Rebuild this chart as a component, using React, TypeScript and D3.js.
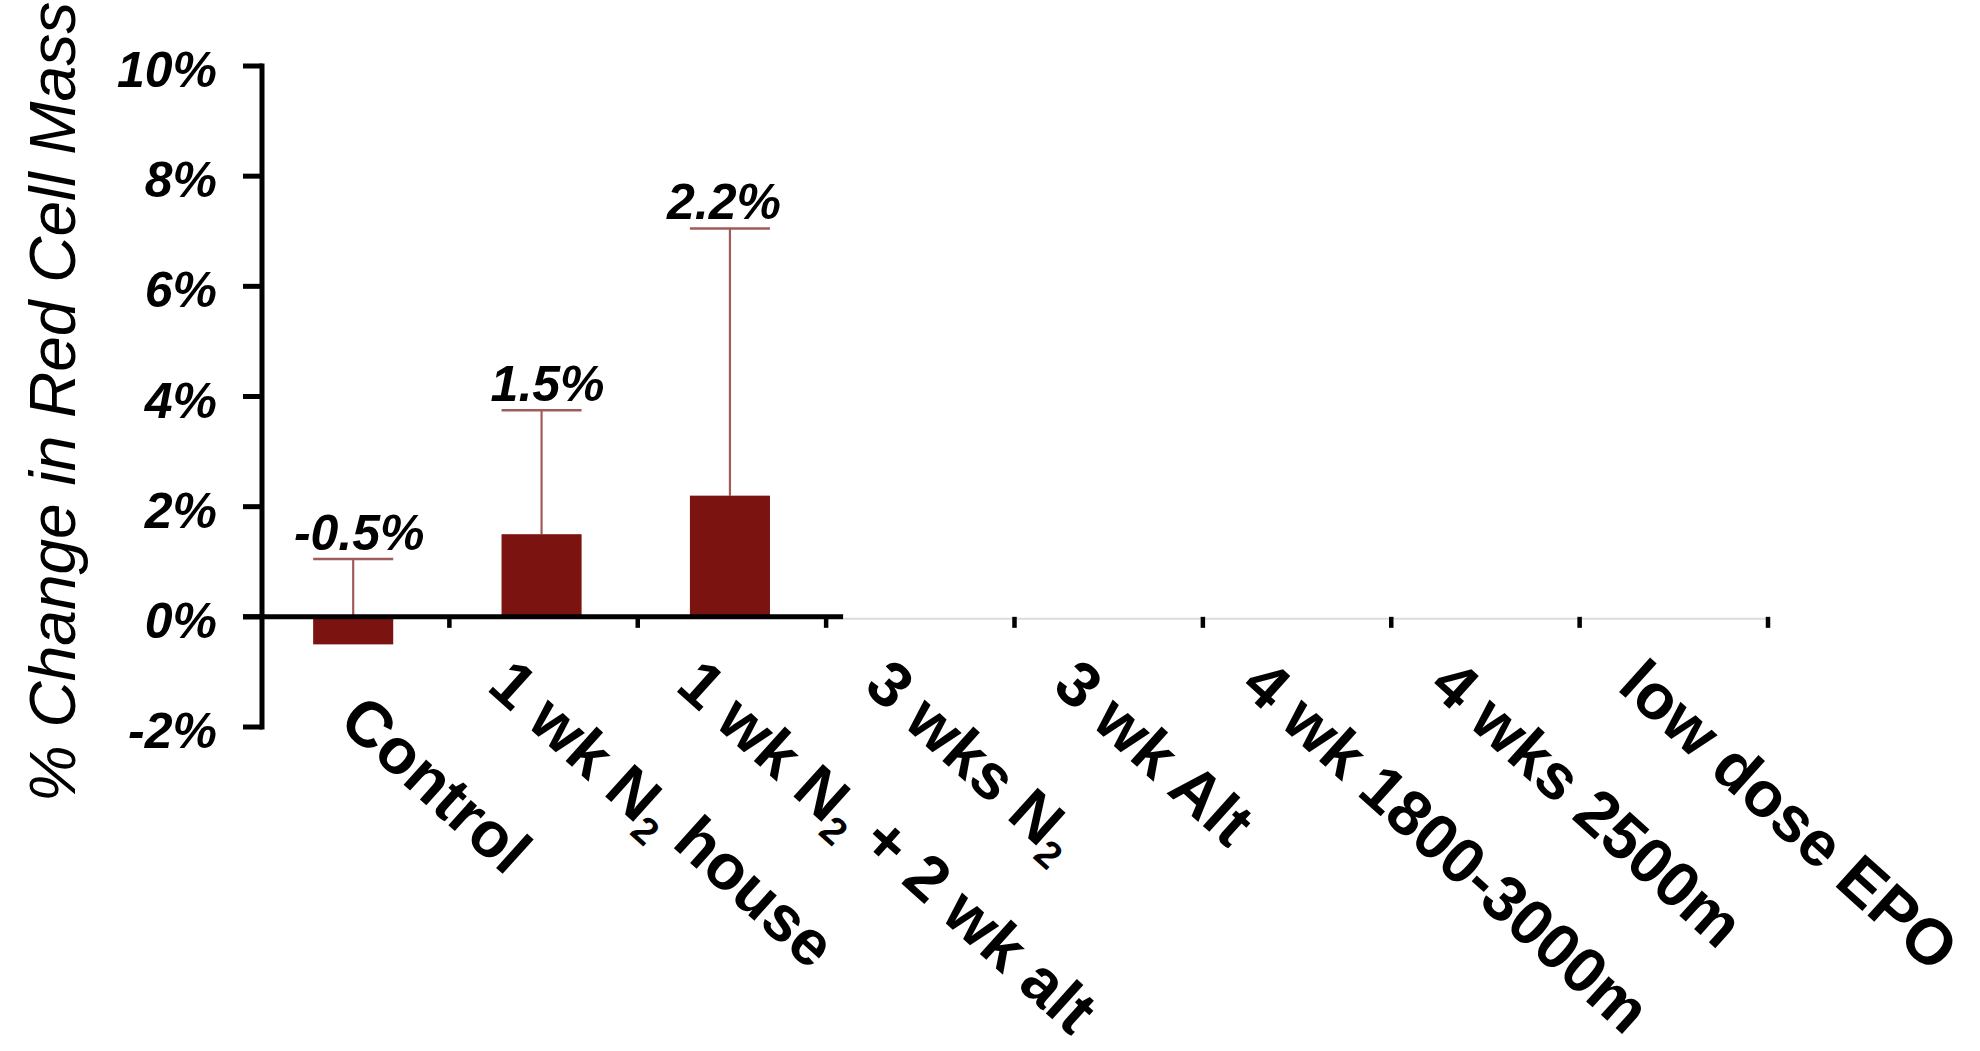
import React from "react";
import * as d3 from "d3";

const categories: string[] = [
  "   Control",
  "1 wk N2 house",
  "1 wk N2 + 2 wk alt",
  "3 wks N2",
  "3 wk Alt",
  "4 wk 1800-3000m",
  "4 wks 2500m",
  "low dose EPO",
];
const values: (number | null)[] = [-0.5, 1.5, 2.2, null, null, null, null, null];
const errorsUp: (number | null)[] = [1.55, 2.25, 4.85, null, null, null, null, null];
const yTicks: number[] = [-2, 0, 2, 4, 6, 8, 10];
const yLabel = "% Change in Red Cell Mass";

const W = 1980;
const H = 1051;
const FONT = "'Liberation Sans', Arial, Helvetica, sans-serif";
const BAR = "#7b1410";
const ERR = "#a05c5c";

function renderLabel(label: string) {
  const parts = label.split("N2");
  const out: React.ReactNode[] = [];
  parts.forEach((p, i) => {
    if (i > 0) {
      out.push(<tspan key={"n" + i}>N</tspan>);
      out.push(
        <tspan key={"s" + i} fontSize="0.6em" dy="0.3em">
          2
        </tspan>
      );
      out.push(
        <tspan key={"p" + i} dy="-0.3em">
          {p}
        </tspan>
      );
    } else if (p.length) {
      out.push(<tspan key={"p" + i}>{p}</tspan>);
    }
  });
  return out;
}

export default function App() {
  const x = d3.scaleBand<string>().domain(categories).range([261, 1768]).padding(0);
  const y = d3.scaleLinear().domain([-2, 10]).range([727, 66]);
  const bw = x.bandwidth();
  const barW = bw * 0.425;
  const y0 = y(0);
  const axisX = 262;
  const lastData = values.reduce((acc, v, i) => (v !== null ? i : acc), 0);
  const blackEnd = (x(categories[lastData]) as number) + bw + 17;
  const xEnd = x.range()[1];
  const boundaries = categories.map((c) => (x(c) as number) + bw);
  const labelNudge = [6, 6, -6];

  return (
    <svg
      width={W}
      height={H}
      style={{ position: "absolute", left: 0, top: 0, background: "#fff" }}
      fontFamily={FONT}
    >
      <rect x={0} y={0} width={W} height={H} fill="#fff" />
      {/* error bars */}
      {categories.map((c, i) => {
        const v = values[i];
        const e = errorsUp[i];
        if (v === null || e === null) return null;
        const cx = (x(c) as number) + bw / 2 - 2;
        const top = y(v + e);
        return (
          <g key={"e" + c}>
            <line x1={cx} x2={cx} y1={y(Math.max(v, 0))} y2={top} stroke={ERR} strokeWidth={2.2} />
            <line x1={cx - barW / 2} x2={cx + barW / 2} y1={top} y2={top} stroke={ERR} strokeWidth={2.6} />
            <text
              x={cx + (labelNudge[i] ?? 0)}
              y={top - 9}
              textAnchor="middle"
              fontSize={50}
              fontWeight="bold"
              fontStyle="italic"
              fill="#000"
            >
              {v.toFixed(1) + "%"}
            </text>
          </g>
        );
      })}
      {/* bars */}
      {categories.map((c, i) => {
        const v = values[i];
        if (v === null) return null;
        const cx = (x(c) as number) + bw / 2 - 2;
        return (
          <rect
            key={"b" + c}
            x={cx - barW / 2}
            y={Math.min(y(v), y0)}
            width={barW}
            height={Math.abs(y(v) - y0)}
            fill={BAR}
          />
        );
      })}
      {/* x axis */}
      <line x1={blackEnd} x2={xEnd} y1={y0 + 2} y2={y0 + 2} stroke="#dcdcdc" strokeWidth={2} />
      {boundaries.map((b, i) => (
        <line key={"xt" + i} x1={b} x2={b} y1={y0} y2={y0 + 11} stroke="#000" strokeWidth={4.5} />
      ))}
      <line x1={243} x2={blackEnd} y1={y0} y2={y0} stroke="#000" strokeWidth={5} />
      {/* y axis */}
      <line x1={axisX} x2={axisX} y1={y(10) - 2.5} y2={y(-2) + 2.5} stroke="#000" strokeWidth={5} />
      {yTicks.map((t) => (
        <g key={"yt" + t}>
          <line x1={243} x2={axisX} y1={y(t)} y2={y(t)} stroke="#000" strokeWidth={5} />
          <text
            x={217}
            y={y(t) + 21}
            textAnchor="end"
            fontSize={50}
            fontWeight="bold"
            fontStyle="italic"
            fill="#000"
          >
            {t + "%"}
          </text>
        </g>
      ))}
      {/* x labels */}
      {categories.map((c) => {
        const ax = (x(c) as number) + bw / 2 - 58;
        const ay = 689;
        return (
          <text
            key={"xl" + c}
            transform={`translate(${ax},${ay}) rotate(42)`}
            fontSize={64}
            fontWeight="bold"
            fill="#000"
            style={{ whiteSpace: "pre" }}
          >
            {renderLabel(c)}
          </text>
        );
      })}
      {/* y label */}
      <text
        transform={`translate(75,402) rotate(-90)`}
        textAnchor="middle"
        fontSize={64}
        fontStyle="italic"
        fill="#000"
      >
        {yLabel}
      </text>
    </svg>
  );
}
